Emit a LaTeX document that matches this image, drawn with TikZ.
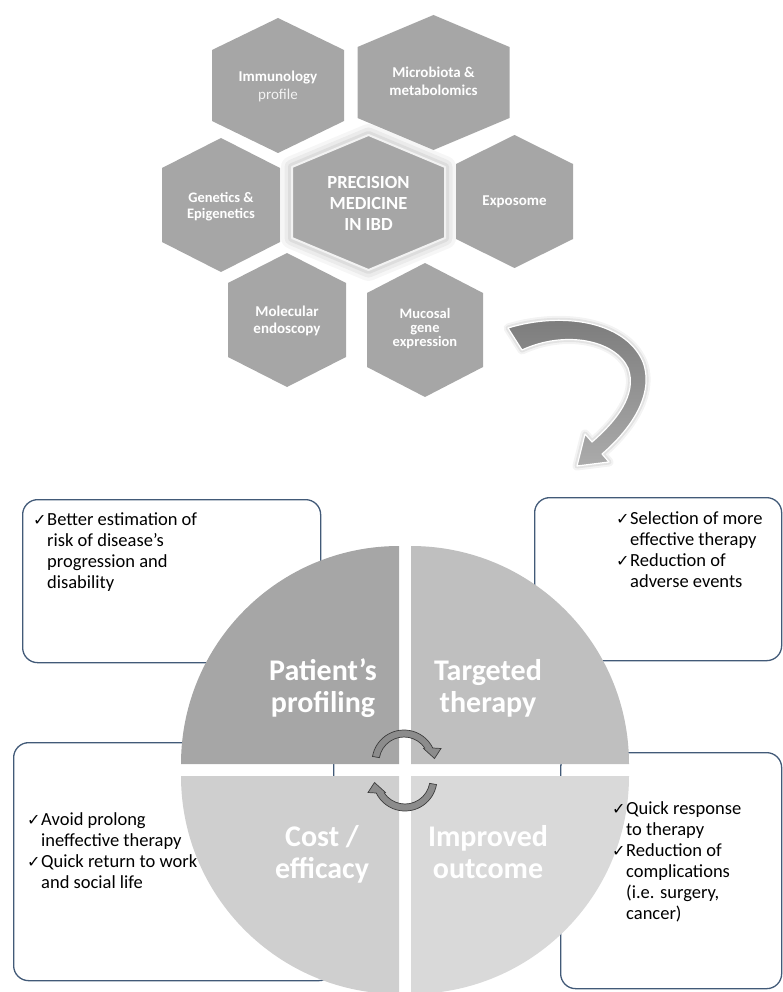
\documentclass[tikz,border=0pt]{standalone}
\usepackage{fontspec}
\setmainfont{Carlito}
\newfontfamily\symfont{DejaVu Sans}
\usetikzlibrary{calc}

\definecolor{hexgray}{RGB}{166,166,166}
\definecolor{quadA}{RGB}{166,166,166}
\definecolor{quadB}{RGB}{191,191,191}
\definecolor{quadC}{RGB}{207,207,207}
\definecolor{quadD}{RGB}{217,217,217}
\definecolor{boxline}{RGB}{66,90,120}
\definecolor{cyclefill}{RGB}{140,140,140}
\definecolor{cycleline}{RGB}{60,60,60}
\definecolor{softwhite}{RGB}{242,242,242}

% hexagon with pointed top: centre x, centre y, half width, half height, shoulder drop, style
\newcommand\hexcell[6]{%
  \path[#6] (#1,#2-#4) -- (#1+#3,#2-#4+#5) -- (#1+#3,#2+#4-#5) -- (#1,#2+#4)
    -- (#1-#3,#2+#4-#5) -- (#1-#3,#2-#4+#5) -- cycle;}

% bullet tick and continuation indent for the box texts
\newcommand\chkmk{\makebox[14pt][l]{\symfont\fontsize{16}{16}\selectfont ✓}}
\newcommand\indln{\hspace*{14pt}}

% outline of a small circular arrow, origin at the arc centre
\newcommand\cyclepath[1]{%
  \path[#1] (190:32) arc[start angle=190, end angle=334, radius=32]
    -- (37,-13.5) -- (30.5,-3.5) -- (19.5,-13.5) -- (326:25)
    arc[start angle=326, end angle=190, radius=25] -- cycle;}

\begin{document}
\begin{tikzpicture}[x=1pt, y=-1pt,
  hexfill/.style={fill=hexgray},
  hexlabel/.style={anchor=base, inner sep=0pt, text=white,
    font=\bfseries\fontsize{15}{18}\selectfont},
  textbox/.style={draw=boxline, line width=1.3pt, rounded corners=15pt,
    anchor=north west, inner sep=0pt},
  boxtext/.style={anchor=base west, inner sep=0pt, text=black,
    font=\fontsize{18.5}{21}\selectfont},
  qlabel/.style={anchor=base, inner sep=0pt, text=white,
    font=\bfseries\fontsize{30}{32}\selectfont},
  cyclearrow/.style={fill=cyclefill, draw=cycleline, line width=0.7pt},
]
\useasboundingbox (0,0) rectangle (783,992);

% ---------- hexagon cluster ----------
% halo round the central cell
\foreach \w/\o in {22/0.10, 15/0.14, 8/0.2}{
  \hexcell{368.5}{202.5}{76.5}{67.5}{32}{draw=black!35, line width=\w pt, opacity=\o, line join=round}
}
\hexcell{278}{85.5}{66}{67.5}{32}{hexfill}
\hexcell{433.5}{82.5}{76}{67.5}{32}{hexfill}
\hexcell{221}{205}{59}{67}{30}{hexfill}
\hexcell{514.5}{201.5}{58.5}{66.5}{29}{hexfill}
\hexcell{287}{320}{59}{67}{30}{hexfill}
\hexcell{425}{330}{58}{67}{30}{hexfill}
\hexcell{368.5}{202.5}{76.5}{67.5}{32}{hexfill, draw=white!90!gray, line width=2pt, line join=round}

\node[hexlabel] (hImm) at (278,81.5)
  {\parbox[t]{120pt}{\centering Immunology\\{\mdseries\color{softwhite}profile}}};
\node[hexlabel] (hMic) at (433.5,78)
  {\parbox[t]{140pt}{\centering Microbiota \&\\metabolomics}};
\node[hexlabel, font=\bfseries\fontsize{14.5}{15.5}\selectfont] (hGen) at (221,203)
  {\parbox[t]{110pt}{\centering Genetics \&\\Epigenetics}};
\node[hexlabel, font=\bfseries\fontsize{18.5}{20.8}\selectfont] (hPre) at (368.5,188.5)
  {\parbox[t]{140pt}{\centering PRECISION\\MEDICINE\\IN IBD}};
\node[hexlabel] (hExp) at (514.5,205.7)
  {\parbox[t]{110pt}{\centering Exposome}};
\node[hexlabel, font=\bfseries\fontsize{15}{16.8}\selectfont] (hMol) at (287,316.4)
  {\parbox[t]{110pt}{\centering Molecular\\endoscopy}};
\node[hexlabel, font=\bfseries\fontsize{14.5}{14.2}\selectfont] (hMuc) at (425,318.4)
  {\parbox[t]{110pt}{\centering Mucosal\\gene\\expression}};

% ---------- curved block arrow ----------
\foreach \w/\o in {9/0.10, 5/0.16}{
  \path[draw=black!45, line width=\w pt, opacity=\o, line join=round]
    (508,328) .. controls (560,312) and (625,320) .. (643,362)
    .. controls (655,395) and (630,430) .. (602,454) -- (609,462) -- (577,466)
    -- (585,434) -- (592,442) .. controls (615,422) and (638,395) .. (628,368)
    .. controls (615,340) and (565,330) .. (522,350) -- cycle;
}
\path[top color=black!52, bottom color=black!33, draw=white, line width=1.2pt, line join=round]
  (508,328) .. controls (560,312) and (625,320) .. (643,362)
  .. controls (655,395) and (630,430) .. (602,454) -- (609,462) -- (577,466)
  -- (585,434) -- (592,442) .. controls (615,422) and (638,395) .. (628,368)
  .. controls (615,340) and (565,330) .. (522,350) -- cycle;

% ---------- text boxes (behind the circle) ----------
\node[textbox, minimum width=298pt, minimum height=163pt] (boxTL) at (22,499) {};
\node[textbox, minimum width=247pt, minimum height=163pt] (boxTR) at (534,497) {};
\node[textbox, minimum width=320pt, minimum height=238pt] (boxBL) at (13,742) {};
\node[textbox, minimum width=221pt, minimum height=236pt] (boxBR) at (560,752) {};

% ---------- four quadrants ----------
\path[fill=quadA] (399,764) -- (181,764) arc[start angle=180, end angle=270, radius=218] -- cycle;
\path[fill=quadB] (411,764) -- (411,546) arc[start angle=270, end angle=360, radius=218] -- cycle;
\path[fill=quadC] (399,776) -- (399,994) arc[start angle=90, end angle=180, radius=218] -- cycle;
\path[fill=quadD] (411,776) -- (629,776) arc[start angle=0, end angle=90, radius=218] -- cycle;

\node[qlabel] (qPat) at (323,680) {\parbox[t]{170pt}{\centering Patient’s\\profiling}};
\node[qlabel] (qTar) at (488,680) {\parbox[t]{170pt}{\centering Targeted\\therapy}};
\node[qlabel] (qCost) at (322,846) {\parbox[t]{170pt}{\centering Cost /\\efficacy}};
\node[qlabel] (qImp) at (488,846) {\parbox[t]{170pt}{\centering Improved\\outcome}};

% ---------- circular arrows in the middle ----------
\begin{scope}[shift={(404,762)}]
  \cyclepath{cyclearrow}
\end{scope}
\begin{scope}[shift={(405,779)}, rotate=180]
  \cyclepath{cyclearrow}
\end{scope}

% ---------- box texts ----------
\node[boxtext] (tTL) at (33,525) {\parbox[t]{280pt}{\raggedright
  \chkmk Better estimation of\\\indln risk of disease’s\\\indln progression and\\\indln disability}};
\node[boxtext] (tTR) at (616,524) {\parbox[t]{170pt}{\raggedright
  \chkmk Selection of more\\\indln effective therapy\\\chkmk Reduction of\\\indln adverse events}};
\node[boxtext] (tBL) at (27,825) {\parbox[t]{200pt}{\raggedright
  \chkmk Avoid prolong\\\indln ineffective therapy\\\chkmk Quick return to work\\\indln and social life}};
\node[boxtext] (tBR) at (612,814) {\parbox[t]{170pt}{\raggedright
  \chkmk Quick response\\\indln to therapy\\\chkmk Reduction of\\\indln complications\\\indln (i.e. surgery,\\\indln cancer)}};
\end{tikzpicture}
\end{document}
